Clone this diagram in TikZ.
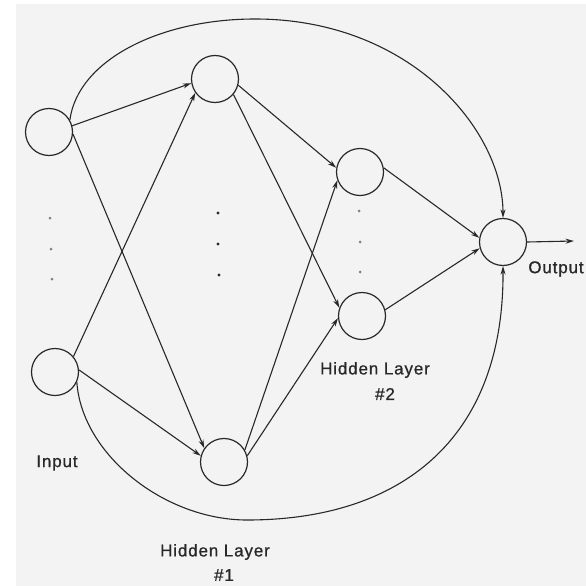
\documentclass[tikz,border=0pt]{standalone}
\usepackage{fontspec}
\setmainfont{Liberation Sans}[LetterSpace=5,FakeBold=0.8]
\usetikzlibrary{arrows.meta}
\definecolor{ink}{RGB}{40,40,40}
\definecolor{paper}{RGB}{243,243,243}
\tikzset{
  neuron/.style={circle,draw=ink,line width=1.2pt,minimum size=47pt,inner sep=0pt},
  conn/.style={draw=ink,line width=1.1pt,-{Stealth[length=8.5pt,width=5pt]}},
  lbl/.style={text=ink,font=\fontsize{17}{20}\selectfont,inner sep=0pt,align=center},
  dotmark/.style={circle,fill=ink,inner sep=0pt,minimum size=3.4pt},
  faintdot/.style={circle,fill=gray,inner sep=0pt,minimum size=3pt}
}
\begin{document}
\begin{tikzpicture}[x=1pt,y=-1pt]
\useasboundingbox (0,0) rectangle (586,586);
\fill[white] (0,0) rectangle (586,586);
\fill[paper] (16,4) rectangle (586,586);

% nodes
\node[neuron] (in1) at (49,132) {};
\node[neuron] (in2) at (55,372) {};
\node[neuron] (h1a) at (215,79) {};
\node[neuron] (h1b) at (224,462) {};
\node[neuron] (h2a) at (360,172) {};
\node[neuron] (h2b) at (362,316) {};
\node[neuron] (out) at (503,242) {};
\coordinate (outend) at (574,241);

% dots
\node[faintdot] (d1) at (50,218) {};
\node[faintdot] (d2) at (51,249) {};
\node[faintdot] (d3) at (52,279) {};
\node[dotmark] (d4) at (218,213) {};
\node[dotmark] (d5) at (218,244) {};
\node[dotmark] (d6) at (219,275) {};
\node[faintdot] (d7) at (359,211) {};
\node[faintdot] (d8) at (360,242) {};
\node[faintdot] (d9) at (360,272) {};

% input -> hidden 1
\draw[conn] (in1.15) -- (h1a.190);
\draw[conn] (in1.-5) -- (h1b.145);
\draw[conn] (in2.40) -- (h1a.215);
\draw[conn] (in2.5) -- (h1b.165);

% hidden 1 -> hidden 2
\draw[conn] (h1a.-15) -- (h2a.170);
\draw[conn] (h1a.-40) -- (h2b.160);
\draw[conn] (h1b.30) -- (h2a.200);
\draw[conn] (h1b.15) -- (h2b.185);

% hidden 2 -> output
\draw[conn] (h2a.10) -- (out.170);
\draw[conn] (h2b.15) -- (out.195);
\draw[conn] (out.east) -- (outend);

% skip connections
\draw[conn] (in1.30) .. controls (78,60) and (160,19) .. (255,19)
  .. controls (410,19) and (503,130) .. (out.north);
\draw[conn] (in2.-25) .. controls (82,455) and (165,520) .. (247,520)
  .. controls (400,520) and (504,440) .. (out.south);

% labels
\node[lbl] (tin) at (57,463) {Input};
\node[lbl] (th1) at (215,552) {Hidden Layer};
\node[lbl] (th1n) at (224,575) {\#1};
\node[lbl] (th2) at (375,370) {Hidden Layer};
\node[lbl] (th2n) at (385,394) {\#2};
\node[lbl] (tout) at (556,269) {Output};
\end{tikzpicture}
\end{document}
